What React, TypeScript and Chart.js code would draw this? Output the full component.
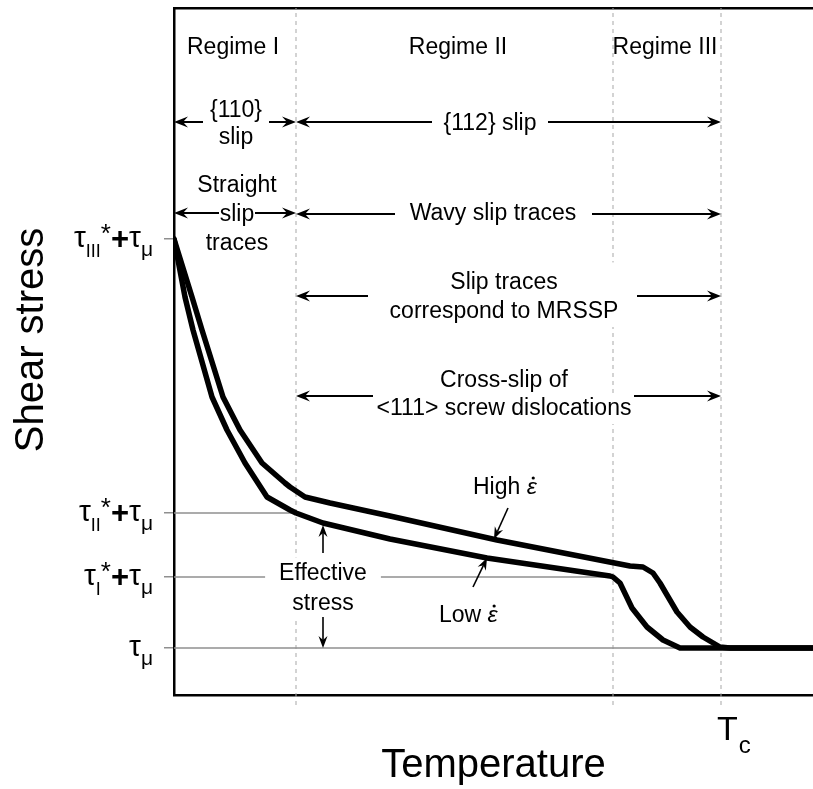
import React, { useEffect, useRef } from "react";
import { Chart, registerables } from "chart.js";

Chart.register(...registerables);

const FONT = '"Liberation Sans", Arial, Helvetica, sans-serif';

// ---------------- data (arbitrary units) ----------------
// temperature measured from the left axis, shear stress measured from the bottom axis
const T_MAX = 639;
const STRESS_MAX = 687;

const highRateT = [0, 18, 28, 49, 66, 88, 111, 116, 131, 156, 216, 323, 456, 469, 479, 486, 493, 503, 516, 529, 546, 556, 639];
const highRateStress = [456, 398, 365, 298, 265, 232, 212, 208, 198, 192, 179, 155, 129, 128, 122, 112, 100, 83, 68, 58, 48, 47, 47];

const lowRateT = [0, 11, 19, 38, 53, 71, 93, 116, 122, 149, 216, 313, 436, 439, 446, 458, 473, 489, 506, 639];
const lowRateStress = [456, 398, 365, 298, 265, 232, 198, 185, 182, 172, 156, 137, 119, 118, 112, 87, 68, 55, 47, 47];

const tauMu = 47;
const tauI = 118;
const tauII = 182;
const tauIII = 456;
const stressTicks = [tauMu, tauI, tauII, tauIII];
const stressTickLabels: [string, string][][] = [
  [["τ", "main"], ["μ", "mu"]],
  [["τ", "main"], ["I", "sub"], ["*", "star"], ["+", "plus"], ["τ", "main"], ["μ", "mu"]],
  [["τ", "main"], ["II", "sub"], ["*", "star"], ["+", "plus"], ["τ", "main"], ["μ", "mu"]],
  [["τ", "main"], ["III", "sub"], ["*", "star"], ["+", "plus"], ["τ", "main"], ["μ", "mu"]],
];

const regimeBoundaries = [122, 439];
const criticalT = 547; // T_c
const regimeLabels = ["Regime I", "Regime II", "Regime III"];

// ---------------- annotation layout (data coordinates) ----------------
const ANN = 23;
const regimeLabelX = [59, 284, 491];
const regimeLabelY = 641;

type TextBlock = { cx: number; lines: [string, number][]; box?: [number, number, number] };
const textBlocks: TextBlock[] = [
  { cx: 62, lines: [["{110}", 578], ["slip", 551]] },
  { cx: 316, lines: [["{112} slip", 565]] },
  { cx: 63, lines: [["Straight", 503], ["slip", 474], ["traces", 445]] },
  { cx: 319, lines: [["Wavy slip traces", 475]] },
  { cx: 330, lines: [["Slip traces", 406], ["correspond to MRSSP", 377]], box: [12, 10, 9] },
  { cx: 330, lines: [["Cross-slip of", 308]] },
  { cx: 330, lines: [["<111> screw dislocations", 280]], box: [4, 5, 9] },
  { cx: 149, lines: [["Effective", 115], ["stress", 85]], box: [14, 6, 8] },
];

// [x1, y1, x2(tip), y2(tip), small]
const arrows: [number, number, number, number, number][] = [
  [29, 573, 0, 573, 0], [95, 573, 122, 573, 0], [258, 573, 122, 573, 0], [374, 573, 547, 573, 0],
  [45, 482, 0, 482, 0], [81, 482, 122, 482, 0], [221, 481, 122, 481, 0], [418, 481, 547, 481, 0],
  [194, 399, 122, 399, 0], [463, 399, 547, 399, 0],
  [199, 299, 122, 299, 0], [460, 299, 547, 299, 0],
  [334, 187, 320, 156, 1], [299, 108, 313, 137, 1],
  [149, 142, 149, 170, 1], [149, 78, 149, 47, 1],
];

const labelStyles: Record<string, { size: number; weight: string; dy: number }> = {
  main: { size: 30, weight: "normal", dy: 8 },
  sub: { size: 18, weight: "normal", dy: 18 },
  star: { size: 26, weight: "normal", dy: 3 },
  plus: { size: 31, weight: "bold", dy: 10 },
  mu: { size: 21, weight: "normal", dy: 17 },
};

function f(size: number, weight = "normal", style = "normal") {
  return `${style} ${weight} ${size}px ${FONT}`;
}

function drawArrow(ctx: CanvasRenderingContext2D, x1: number, y1: number, x2: number, y2: number, small: boolean) {
  const lw = small ? 1.6 : 2;
  const len = small ? 12 : 14;
  const half = small ? 4.5 : 5.5;
  const notch = small ? 8 : 9;
  const ang = Math.atan2(y2 - y1, x2 - x1);
  ctx.save();
  ctx.strokeStyle = "#000";
  ctx.fillStyle = "#000";
  ctx.lineWidth = lw;
  ctx.beginPath();
  ctx.moveTo(x1, y1);
  ctx.lineTo(x2 - Math.cos(ang) * notch, y2 - Math.sin(ang) * notch);
  ctx.stroke();
  ctx.translate(x2, y2);
  ctx.rotate(ang);
  ctx.beginPath();
  ctx.moveTo(0, 0);
  ctx.lineTo(-len, -half);
  ctx.lineTo(-notch, 0);
  ctx.lineTo(-len, half);
  ctx.closePath();
  ctx.fill();
  ctx.restore();
}

const annotationPlugin = {
  id: "annotations",
  afterDatasetsDraw(chart: any) {
    const ctx: CanvasRenderingContext2D = chart.ctx;
    const xs = chart.scales.x;
    const ys = chart.scales.y;
    const X = (v: number) => xs.getPixelForValue(v);
    const Y = (v: number) => ys.getPixelForValue(v);
    ctx.save();
    ctx.fillStyle = "#000";
    ctx.textBaseline = "alphabetic";

    // regime labels
    ctx.font = f(ANN);
    ctx.textAlign = "center";
    regimeLabels.forEach((t, i) => ctx.fillText(t, X(regimeLabelX[i]), Y(regimeLabelY)));

    // text blocks (with optional white background)
    textBlocks.forEach((b) => {
      ctx.font = f(ANN);
      if (b.box) {
        const [px, pt, pb] = b.box;
        const w = Math.max(...b.lines.map(([t]) => ctx.measureText(t).width));
        const top = Y(b.lines[0][1]) - ANN * 0.72 - pt;
        const bottom = Y(b.lines[b.lines.length - 1][1]) + pb;
        ctx.fillStyle = "#fff";
        ctx.fillRect(X(b.cx) - w / 2 - px, top, w + 2 * px, bottom - top);
      }
      ctx.fillStyle = "#000";
      ctx.textAlign = "center";
      b.lines.forEach(([t, y]) => ctx.fillText(t, X(b.cx), Y(y)));
    });

    // strain-rate labels: word + italic epsilon with a dot above
    const rateLabel = (word: string, x: number, y: number) => {
      ctx.textAlign = "left";
      ctx.font = f(ANN);
      ctx.fillText(word, X(x), Y(y));
      const w = ctx.measureText(word + " ").width;
      ctx.font = f(ANN, "normal", "italic");
      const ex = X(x) + w;
      ctx.fillText("ε", ex, Y(y));
      const ew = ctx.measureText("ε").width;
      ctx.beginPath();
      ctx.arc(ex + ew / 2 + 1.5, Y(y) - 16, 1.6, 0, Math.PI * 2);
      ctx.fill();
    };
    rateLabel("High", 299, 201);
    rateLabel("Low", 265, 73);

    arrows.forEach(([x1, y1, x2, y2, s]) => drawArrow(ctx, X(x1), Y(y1), X(x2), Y(y2), !!s));

    ctx.restore();
  },
  afterDraw(chart: any) {
    const ctx: CanvasRenderingContext2D = chart.ctx;
    const xs = chart.scales.x;
    const ys = chart.scales.y;
    const X = (v: number) => xs.getPixelForValue(v);
    const Y = (v: number) => ys.getPixelForValue(v);
    ctx.save();
    ctx.fillStyle = "#000";
    ctx.textBaseline = "alphabetic";
    ctx.textAlign = "left";

    // y tick labels, right-aligned
    const rightEdge = xs.left - 21;
    stressTicks.forEach((v, i) => {
      const parts = stressTickLabels[i];
      let total = 0;
      const widths = parts.map(([t, k]) => {
        const s = labelStyles[k];
        ctx.font = f(s.size, s.weight);
        const w = ctx.measureText(t).width;
        total += w;
        return w;
      });
      let x = rightEdge - total;
      const y0 = Y(v);
      parts.forEach(([t, k], j) => {
        const s = labelStyles[k];
        ctx.font = f(s.size, s.weight);
        ctx.fillText(t, x, y0 + s.dy);
        x += widths[j];
      });
    });

    // T_c label
    ctx.font = f(34);
    ctx.fillText("T", X(criticalT) - 4, Y(-45));
    const tw = ctx.measureText("T").width;
    ctx.font = f(24);
    ctx.fillText("c", X(criticalT) - 4 + tw + 1, Y(-58));

    // axis titles
    ctx.font = f(40);
    ctx.textAlign = "center";
    ctx.fillText("Temperature", (xs.left + xs.right) / 2, Y(-82));
    ctx.save();
    ctx.translate(43, Y(355));
    ctx.rotate(-Math.PI / 2);
    ctx.fillText("Shear stress", 0, 0);
    ctx.restore();

    ctx.restore();
  },
};

function pts(xsArr: number[], ysArr: number[]) {
  return xsArr.map((x, i) => ({ x, y: ysArr[i] }));
}

export default function App() {
  const ref = useRef<HTMLCanvasElement | null>(null);
  useEffect(() => {
    if (!ref.current) return;
    const gray = "#8f8f8f";
    const dashGray = "#a8a8a8";
    const refLine = (data: { x: number; y: number }[]) => ({
      data,
      borderColor: gray,
      borderWidth: 1.5,
      pointRadius: 0,
      fill: false,
    });
    const dashLine = (x: number) => ({
      data: [{ x, y: -10 }, { x, y: STRESS_MAX }],
      borderColor: dashGray,
      borderWidth: 1,
      borderDash: [4, 4],
      pointRadius: 0,
      fill: false,
      clip: false as any,
    });
    const curve = (label: string, data: { x: number; y: number }[]) =>
      ({
        label,
        data,
        borderColor: "#000",
        borderWidth: 5.5,
        borderJoinStyle: "round",
        borderCapStyle: "round",
        pointRadius: 0,
        tension: 0,
        fill: false,
      } as any);
    const chart = new Chart(ref.current, {
      type: "line",
      data: {
        datasets: [
          curve("High strain rate", pts(highRateT, highRateStress)),
          curve("Low strain rate", pts(lowRateT, lowRateStress)),
          refLine([{ x: 0, y: tauMu }, { x: T_MAX, y: tauMu }]),
          refLine([{ x: 0, y: tauI }, { x: regimeBoundaries[1], y: tauI }]),
          refLine([{ x: 0, y: tauII }, { x: regimeBoundaries[0], y: tauII }]),
          dashLine(regimeBoundaries[0]),
          dashLine(regimeBoundaries[1]),
          dashLine(criticalT),
        ],
      },
      options: {
        animation: false,
        responsive: false,
        devicePixelRatio: 1,
        events: [],
        layout: { padding: { top: 0, left: 0, right: 0, bottom: 0 } },
        plugins: { legend: { display: false }, tooltip: { enabled: false } },
        scales: {
          x: {
            type: "linear",
            position: "bottom",
            min: 0,
            max: T_MAX,
            ticks: { display: false },
            grid: { display: false },
            border: { display: true, color: "#000", width: 2.5 },
            afterFit: (s: any) => {
              s.height = 94;
            },
          },
          xTop: {
            type: "linear",
            axis: "x",
            position: "top",
            min: 0,
            max: T_MAX,
            ticks: { display: false },
            grid: { display: false },
            border: { display: true, color: "#000", width: 2.5 },
            afterFit: (s: any) => {
              s.height = 8;
            },
          },
          y: {
            type: "linear",
            min: 0,
            max: STRESS_MAX,
            ticks: { display: false },
            afterBuildTicks: (s: any) => {
              s.ticks = stressTicks.map((value) => ({ value }));
            },
            grid: {
              display: true,
              drawOnChartArea: false,
              drawTicks: true,
              tickLength: 10,
              color: gray,
              lineWidth: 1.5,
            },
            border: { display: true, color: "#000", width: 2.5 },
            afterFit: (s: any) => {
              s.width = 174;
            },
          },
        } as any,
      },
      plugins: [annotationPlugin],
    });
    return () => chart.destroy();
  }, []);
  return (
    <div style={{ position: "absolute", left: 0, top: 0, width: 813, height: 789, background: "#fff" }}>
      <canvas ref={ref} width={813} height={789} style={{ display: "block" }} />
    </div>
  );
}
